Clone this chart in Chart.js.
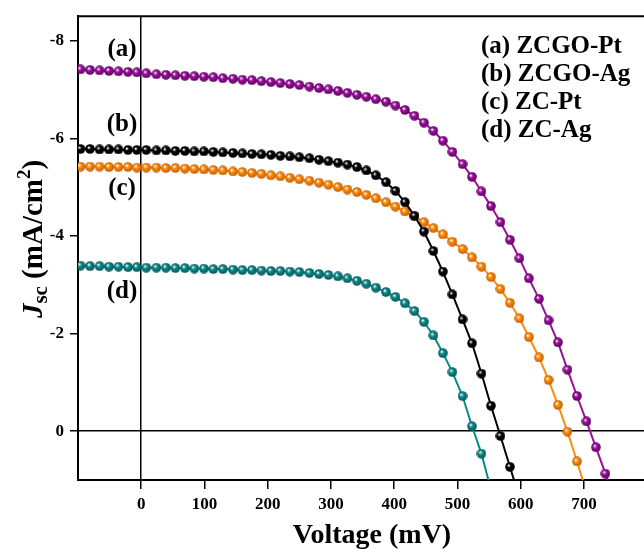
<!DOCTYPE html>
<html>
<head>
<meta charset="utf-8">
<script src="https://cdn.jsdelivr.net/npm/chart.js@4/dist/chart.umd.min.js"></script>
<style>
    body { margin: 0; background: #fff; }
    canvas { display: block; }
</style>
</head>
<body>
<canvas id="jv-chart" width="644" height="549"></canvas>
<script>
// Voltage grid shared by all curves (mV)
const voltage = [-96, -81, -66, -51, -36, -21, -7, 8, 24, 39, 54, 69, 84, 99, 114, 129, 145, 160, 175, 190,
    205, 220, 235, 250, 266, 281, 296, 311, 326, 341, 356, 371, 387, 402, 417, 432, 447, 462, 477, 492,
    508, 523, 538, 553, 568, 583, 598, 613, 629, 644, 659, 674, 689, 704, 719, 734, 749];

// Current density (mA/cm2) for each cell
const jZcgoPt = [-7.41, -7.40, -7.39, -7.38, -7.37, -7.36, -7.35, -7.33, -7.31, -7.30, -7.29, -7.28, -7.27, -7.26,
    -7.25, -7.23, -7.22, -7.20, -7.19, -7.17, -7.15, -7.13, -7.11, -7.09, -7.06, -7.03, -7.00, -6.97, -6.93,
    -6.89, -6.85, -6.80, -6.75, -6.67, -6.58, -6.46, -6.32, -6.15, -5.95, -5.72, -5.47, -5.21, -4.91, -4.61,
    -4.28, -3.92, -3.54, -3.13, -2.71, -2.27, -1.82, -1.26, -0.72, -0.20, 0.33, 0.87, 1.40];
const jZcgoAg = [-5.78, -5.78, -5.77, -5.77, -5.77, -5.76, -5.76, -5.76, -5.75, -5.75, -5.74, -5.74, -5.73, -5.73,
    -5.72, -5.71, -5.70, -5.69, -5.68, -5.67, -5.66, -5.64, -5.63, -5.61, -5.59, -5.56, -5.53, -5.50, -5.46,
    -5.41, -5.34, -5.24, -5.10, -4.92, -4.69, -4.41, -4.09, -3.69, -3.27, -2.80, -2.29, -1.80, -1.18, -0.52,
    0.10, 0.73, 1.36];
const jZcPt = [-5.42, -5.42, -5.42, -5.41, -5.41, -5.41, -5.40, -5.40, -5.40, -5.39, -5.39, -5.38, -5.37, -5.36,
    -5.35, -5.34, -5.32, -5.31, -5.29, -5.27, -5.24, -5.22, -5.19, -5.16, -5.13, -5.09, -5.05, -5.00, -4.95,
    -4.90, -4.84, -4.77, -4.69, -4.60, -4.50, -4.40, -4.28, -4.16, -4.03, -3.88, -3.73, -3.56, -3.37, -3.16,
    -2.91, -2.63, -2.31, -1.93, -1.51, -1.05, -0.54, 0.01, 0.62, 1.25];
const jZcAg = [-3.39, -3.38, -3.38, -3.37, -3.37, -3.36, -3.36, -3.35, -3.35, -3.35, -3.34, -3.34, -3.33, -3.33,
    -3.32, -3.32, -3.31, -3.30, -3.30, -3.29, -3.28, -3.28, -3.27, -3.26, -3.24, -3.22, -3.20, -3.17, -3.13,
    -3.08, -3.02, -2.94, -2.85, -2.75, -2.62, -2.46, -2.24, -1.96, -1.60, -1.21, -0.72, -0.10, 0.46, 1.20];

const seriesNames = ['(a) ZCGO-Pt', '(b) ZCGO-Ag', '(c) ZC-Pt', '(d) ZC-Ag'];
const seriesTags = ['(a)', '(b)', '(c)', '(d)'];
const xTicks = [0, 100, 200, 300, 400, 500, 600, 700];
const yTicks = [-8, -6, -4, -2, 0];

const SERIF = '"Liberation Serif", "Times New Roman", serif';

// Small shaded ball used as the marker
function makeBall(color, dark) {
    const c = document.createElement('canvas');
    c.width = 10;
    c.height = 10;
    const g = c.getContext('2d');
    const grad = g.createRadialGradient(3.6, 3.4, 0.3, 5, 5, 5);
    grad.addColorStop(0, '#ffffff');
    grad.addColorStop(0.35, color);
    grad.addColorStop(1, dark);
    g.fillStyle = grad;
    g.beginPath();
    g.arc(5, 5, 4.8, 0, Math.PI * 2);
    g.fill();
    return c;
}

function toPoints(values) {
    return values.map((v, i) => ({ x: voltage[i], y: v }));
}

function makeDataset(label, values, color, dark) {
    return {
        label: label,
        data: toPoints(values),
        borderColor: color,
        borderWidth: 2,
        pointStyle: makeBall(color, dark),
        pointRadius: 5,
        pointHoverRadius: 5,
        showLine: true,
        fill: false,
        tension: 0,
        clip: 0
    };
}

// Frame top, axis titles and text labels
const labelsPlugin = {
    id: 'labels',
    afterDraw(chart) {
        const ctx = chart.ctx;
        const area = chart.chartArea;
        ctx.save();

        // top frame line
        ctx.strokeStyle = '#000';
        ctx.lineWidth = 2;
        ctx.beginPath();
        ctx.moveTo(area.left - 1, area.top);
        ctx.lineTo(area.right, area.top);
        ctx.stroke();

        ctx.fillStyle = '#000';

        // x title
        ctx.font = 'bold 28px ' + SERIF;
        ctx.textAlign = 'center';
        ctx.textBaseline = 'alphabetic';
        ctx.fillText('Voltage (mV)', 372, 543);

        // y title: J_sc (mA/cm^2), rotated
        const parts = [
            { t: 'J', f: 'italic bold 29px ' + SERIF, dy: 0 },
            { t: 'sc', f: 'bold 21px ' + SERIF, dy: 5 },
            { t: ' (mA/cm', f: 'bold 29px ' + SERIF, dy: 0 },
            { t: '2', f: 'bold 19px ' + SERIF, dy: -12 },
            { t: ')', f: 'bold 29px ' + SERIF, dy: 0 }
        ];
        let total = 0;
        parts.forEach(p => { ctx.font = p.f; p.w = ctx.measureText(p.t).width; total += p.w; });
        ctx.save();
        ctx.translate(42, 239);
        ctx.rotate(-Math.PI / 2);
        ctx.textAlign = 'left';
        let px = -total / 2;
        parts.forEach(p => {
            ctx.font = p.f;
            ctx.fillText(p.t, px, p.dy);
            px += p.w;
        });
        ctx.restore();

        // curve tags near the left axis
        ctx.font = 'bold 25px ' + SERIF;
        ctx.textAlign = 'center';
        const tagBase = [56, 131, 195, 298];
        seriesTags.forEach((t, i) => ctx.fillText(t, 122, tagBase[i]));

        // legend as plain text
        ctx.font = 'bold 25px ' + SERIF;
        ctx.textAlign = 'left';
        const legBase = [53, 81, 109, 137];
        seriesNames.forEach((t, i) => ctx.fillText(t, 481, legBase[i]));

        ctx.restore();
    }
};

const zeroLine = (c) => (c.tick && c.tick.value === 0 ? '#000' : 'rgba(0,0,0,0)');

new Chart(document.getElementById('jv-chart'), {
    type: 'line',
    data: {
        datasets: [
            makeDataset(seriesNames[0], jZcgoPt, '#9b109b', '#5a0060'),
            makeDataset(seriesNames[1], jZcgoAg, '#000000', '#000000'),
            makeDataset(seriesNames[2], jZcPt, '#ff8c0a', '#c05a00'),
            makeDataset(seriesNames[3], jZcAg, '#0c8a8a', '#045454')
        ]
    },
    options: {
        responsive: false,
        animation: false,
        layout: { autoPadding: false, padding: { top: 14, left: 0, right: 0, bottom: 0 } },
        plugins: {
            legend: { display: false },
            tooltip: { enabled: false }
        },
        scales: {
            x: {
                type: 'linear',
                min: -100,
                max: 795,
                afterBuildTicks: (scale) => { scale.ticks = xTicks.map(v => ({ value: v })); },
                afterFit: (scale) => { scale.height = 69; },
                grid: { color: zeroLine, lineWidth: 1.5, tickColor: '#000', tickLength: 9, tickWidth: 1.5 },
                border: { color: '#000', width: 2 },
                ticks: {
                    color: '#000',
                    padding: 5,
                    maxRotation: 0,
                    font: { family: SERIF, size: 17, weight: 'bold' }
                }
            },
            y: {
                type: 'linear',
                reverse: true,
                min: -8.5,
                max: 1,
                afterBuildTicks: (scale) => { scale.ticks = yTicks.map(v => ({ value: v })); },
                afterFit: (scale) => { scale.width = 78; },
                grid: { color: zeroLine, lineWidth: 1.5, tickColor: '#000', tickLength: 8, tickWidth: 1.5 },
                border: { color: '#000', width: 2 },
                ticks: {
                    color: '#000',
                    padding: 6,
                    font: { family: SERIF, size: 17, weight: 'bold' }
                }
            }
        }
    },
    plugins: [labelsPlugin]
});
</script>
</body>
</html>
